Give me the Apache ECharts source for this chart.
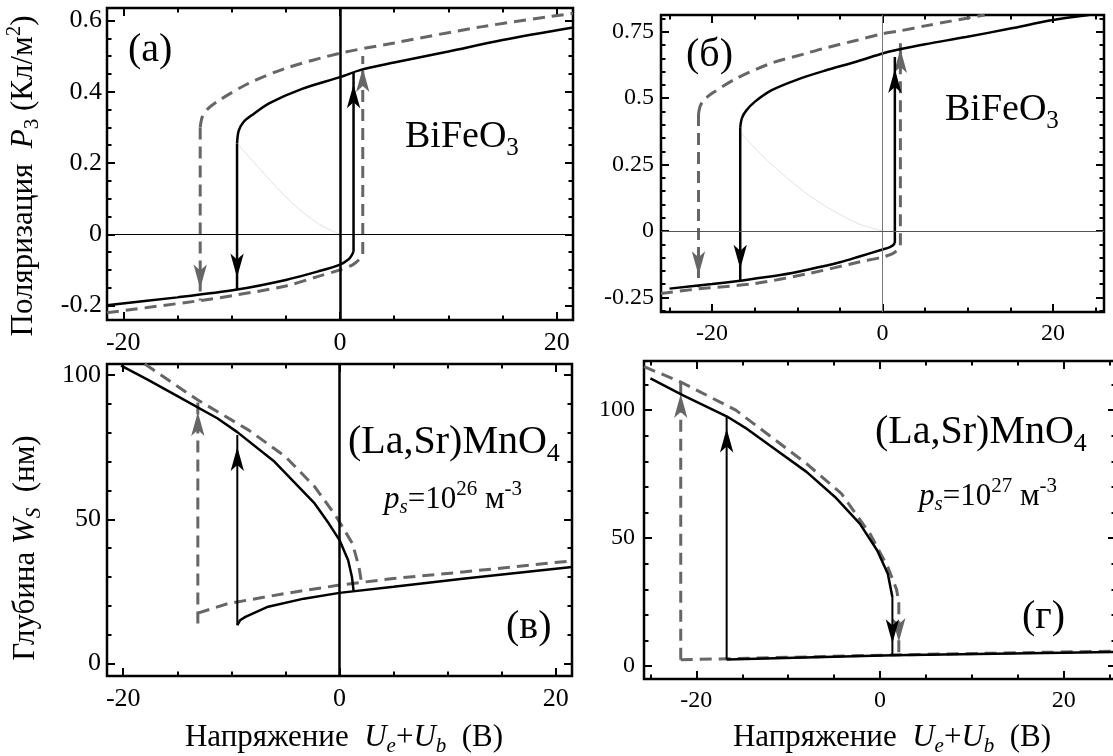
<!DOCTYPE html>
<html>
<head>
<meta charset="utf-8">
<script src="https://cdn.jsdelivr.net/npm/echarts@6/dist/echarts.min.js"></script>
<style>
  html, body { margin: 0; padding: 0; background: #fff; }
  #chart { width: 1113px; height: 756px; }
</style>
</head>
<body>
<div id="chart"></div>
<script>
// Panel (a): BiFeO3, polarization vs voltage  [U, P3]
const aSolidUpper = [[-9.5, 0.255], [-9.35, 0.29], [-8.9, 0.315], [-8.1, 0.335], [-6.5, 0.368], [-3.5, 0.408], [0, 0.441], [2, 0.462], [5, 0.482], [10, 0.513], [15, 0.545], [21.5, 0.58]];
const aSolidLower = [[-21.5, -0.199], [-15, -0.177], [-9.5, -0.155], [-5, -0.128], [-2, -0.104], [0, -0.085], [0.8, -0.07], [1.1, -0.058], [1.25, -0.048]];
const aDashUpper = [[-12.9, 0.30], [-12.7, 0.33], [-12.2, 0.352], [-11.1, 0.377], [-8.4, 0.424], [-5, 0.466], [0, 0.508], [5, 0.537], [13, 0.582], [21.5, 0.62]];
const aDashLower = [[-21.5, -0.22], [-12.9, -0.186], [-9.5, -0.17], [-5, -0.145], [-2, -0.118], [0, -0.1], [1.2, -0.085], [1.8, -0.07], [2.1, -0.055]];
const aFaint = [[-9.5, 0.255], [-7, 0.17], [-4.5, 0.09], [-2, 0.03], [0, 0]];
// arrows: [U, from, to]
const aSolidArrows = [[-9.5, 0.255, -0.155], [1.25, -0.048, 0.455]];
const aDashArrows = [[-12.9, 0.30, -0.186], [2.1, -0.055, 0.50]];

// Panel (б): BiFeO3
const bSolidUpper = [[-16.7, 0.39], [-16.5, 0.425], [-16, 0.453], [-15, 0.486], [-13, 0.53], [-10, 0.57], [-6.8, 0.603], [-3, 0.638], [0, 0.668], [1.5, 0.68], [5, 0.703], [9.8, 0.73], [15, 0.762], [20, 0.794], [24.2, 0.813]];
const bSolidLower = [[-25, -0.217], [-20, -0.2], [-16.7, -0.187], [-12, -0.166], [-8.8, -0.146], [-5, -0.118], [-2.6, -0.095], [0, -0.07], [0.8, -0.062], [1.2, -0.055], [1.45, -0.045]];
const bDashUpper = [[-21.6, 0.44], [-21.4, 0.47], [-21, 0.492], [-20, 0.518], [-17.1, 0.575], [-13, 0.632], [-9, 0.668], [-6.8, 0.688], [-3, 0.718], [0, 0.742], [2, 0.753], [5, 0.772], [8, 0.79], [12, 0.813]];
const bDashLower = [[-26, -0.235], [-21.6, -0.218], [-15, -0.198], [-8.8, -0.161], [-2.6, -0.116], [0, -0.098], [1.2, -0.085], [1.8, -0.07], [2.1, -0.054]];
const bFaint = [[-16.7, 0.37], [-13, 0.25], [-8, 0.12], [-3, 0.03], [0, 0]];
const bSolidArrows = [[-16.7, 0.39, -0.187], [1.45, -0.045, 0.655]];
const bDashArrows = [[-21.6, 0.44, -0.212], [2.1, -0.054, 0.73]];

// Panel (в): (La,Sr)MnO4, ps = 1e26, depth W_S (nm)
const cSolidUpper = [[-20.2, 103.2], [-17.7, 98.3], [-14.9, 92.5], [-11.3, 85], [-9.45, 80.2], [-6, 69.9], [-2.3, 55.5], [-1, 48.6], [0, 42.8], [0.8, 35.8], [1.15, 30], [1.3, 25.3]];
const cSolidLower = [[-9.45, 13.3], [-9.2, 15], [-8.7, 16.2], [-6.6, 19.7], [-3.3, 22.5], [0, 24.5], [5, 26.6], [11.6, 29.5], [21.5, 33.5]];
const cDashUpper = [[-18, 103.8], [-13.1, 91.3], [-8.4, 80.9], [-5, 71.7], [-2.3, 61.3], [-0.3, 50.9], [1.2, 41.6], [1.8, 33.5], [2, 28.9], [2.05, 27.8]];
const cDashLower = [[-13.1, 17.5], [-10.3, 20.8], [-5, 24.3], [0, 27.2], [5, 29.5], [11.6, 31.8], [21.5, 35.6]];
const cSolidArrows = [[-9.45, 13.3, 79.2]];
const cDashArrows = [[-13.1, 13.9, 91.3]];

// Panel (г): (La,Sr)MnO4, ps = 1e27
const dSolidUpper = [[-25, 112.4], [-21.5, 105.9], [-16.7, 97.6], [-14.7, 93.2], [-11.8, 85.7], [-8, 75.9], [-4.9, 66.1], [-2.2, 55.7], [-0.3, 45.2], [0.85, 36.1], [1.35, 27]];
const dSolidLower = [[-16.7, 2.6], [1.35, 4.3], [25.7, 5.6]];
const dDashUpper = [[-25.7, 117], [-21.7, 111], [-15.7, 100], [-8, 79.1], [-4.2, 67.4], [-1.1, 51.8], [0.85, 38.7], [1.8, 30], [2.05, 25]];
const dDashLower = [[-21.7, 2.5], [1.35, 4.4], [25.7, 5.9]];
const dSolidArrows = [[-16.7, 2.6, 97.5], [1.35, 27, 4.3]];
const dDashArrows = [[-21.7, 2.5, 111], [2.05, 25, 4.8]];

// tick labels
const xLabels = [-20, 0, 20];
const yLabelsA = [-0.2, 0, 0.2, 0.4, 0.6];
const yLabelsB = [-0.25, 0, 0.25, 0.5, 0.75];
const yLabelsW = [0, 50, 100];

const FONT = "'Liberation Serif', 'DejaVu Serif', serif";
const GRAY = '#666';

function steps(from, to, step) {
  const out = [];
  for (let v = from; v <= to + step / 1000; v += step) out.push(Math.round(v * 1000) / 1000);
  return out;
}

const panels = [
  { grid: { left: 107, top: 8, width: 466, height: 312 }, x: [-21.5, 21.5], y: [-0.2405, 0.635],
    xMajor: xLabels, xMinor: steps(-20, 20, 5), yMajor: yLabelsA, yMinor: steps(-0.2, 0.6, 0.05),
    yMargin: 5, fontSize: 26 },
  { grid: { left: 661, top: 15, width: 443, height: 297 }, x: [-26, 26], y: [-0.305, 0.813],
    xMajor: xLabels, xMinor: steps(-25, 25, 5), yMajor: yLabelsB, yMinor: steps(-0.3, 0.8, 0.05),
    yMargin: 7, fontSize: 24 },
  { grid: { left: 107, top: 364, width: 465, height: 312 }, x: [-21.5, 21.5], y: [-4.3, 103.8],
    xMajor: xLabels, xMinor: steps(-20, 20, 5), yMajor: yLabelsW, yMinor: steps(0, 100, 10),
    yMargin: 6, fontSize: 26 },
  { grid: { left: 644, top: 361, width: 472, height: 318 }, x: [-25.7, 25.7], y: [-5, 119.2],
    xMajor: xLabels, xMinor: steps(-25, 25, 5), yMajor: yLabelsW, yMinor: steps(0, 110, 10),
    yMargin: 9, fontSize: 24 }
];

const tickLine = { color: '#000', width: 2 };

function axesFor(p, gi, dim) {
  const range = dim === 'x' ? p.x : p.y;
  const major = dim === 'x' ? p.xMajor : p.yMajor;
  const minor = dim === 'x' ? p.xMinor : p.yMinor;
  const pos = dim === 'x' ? ['bottom', 'top'] : ['left', 'right'];
  const base = {
    gridIndex: gi, type: 'value', min: range[0], max: range[1],
    axisLine: { show: false, onZero: false }, splitLine: { show: false }, silent: true
  };
  const majorTick = { customValues: major, inside: true, length: 8, lineStyle: tickLine };
  const minorTick = { customValues: minor, inside: true, length: 4.5, lineStyle: tickLine };
  return [
    Object.assign({}, base, {
      position: pos[0], axisTick: majorTick,
      axisLabel: {
        customValues: major, margin: dim === 'x' ? 10 : p.yMargin,
        fontFamily: FONT, fontSize: p.fontSize, color: '#000'
      }
    }),
    Object.assign({}, base, { position: pos[0], axisTick: minorTick, axisLabel: { show: false } }),
    Object.assign({}, base, { position: pos[1], axisTick: majorTick, axisLabel: { show: false } }),
    Object.assign({}, base, { position: pos[1], axisTick: minorTick, axisLabel: { show: false } })
  ];
}

let xAxes = [], yAxes = [];
panels.forEach((p, i) => {
  xAxes = xAxes.concat(axesFor(p, i, 'x'));
  yAxes = yAxes.concat(axesFor(p, i, 'y'));
});

function curve(gi, data, dashed, smooth, extra) {
  return Object.assign({
    type: 'line', xAxisIndex: gi * 4, yAxisIndex: gi * 4, data: data,
    showSymbol: false, smooth: smooth ? 0.3 : false, silent: true, animation: false,
    lineStyle: dashed ? { color: GRAY, width: 3, type: [12, 7] } : { color: '#000', width: 2.5 },
    z: dashed ? 3 : 4
  }, extra || {});
}

function faint(gi, data) {
  return {
    type: 'line', xAxisIndex: gi * 4, yAxisIndex: gi * 4, data: data,
    showSymbol: false, smooth: 0.3, silent: true, animation: false,
    lineStyle: { color: '#e2e2e2', width: 1 }, z: 2
  };
}

function arrow(gi, a, dashed, width) {
  const up = a[2] > a[1];
  const color = dashed ? GRAY : '#000';
  return {
    type: 'line', xAxisIndex: gi * 4, yAxisIndex: gi * 4, silent: true, animation: false,
    showSymbol: true,
    data: [
      { value: [a[0], a[1]], symbol: 'none' },
      { value: [a[0], a[2]], symbol: 'arrow', symbolSize: [10, 24],
        symbolRotate: up ? 0 : 180, symbolOffset: [0, up ? '50%' : '-50%'] }
    ],
    lineStyle: dashed ? { color: color, width: 3, type: [12, 7] } : { color: color, width: width },
    itemStyle: { color: color, borderWidth: 0 },
    z: dashed ? 3 : 4
  };
}

function zeroLines(items) {
  return {
    markLine: { silent: true, symbol: 'none', label: { show: false }, animation: false, data: items }
  };
}

const series = [
  // (a)
  faint(0, aFaint),
  curve(0, aDashUpper, true, true),
  curve(0, aDashLower, true, true),
  curve(0, aSolidUpper, false, true, zeroLines([
    { xAxis: 0, lineStyle: { color: '#000', width: 2.5, type: 'solid' } },
    { yAxis: 0, lineStyle: { color: '#000', width: 1, type: 'solid' } }
  ])),
  curve(0, aSolidLower, false, true),
  // (б)
  faint(1, bFaint),
  curve(1, bDashUpper, true, true),
  curve(1, bDashLower, true, true),
  curve(1, bSolidUpper, false, true, zeroLines([
    { xAxis: 0, lineStyle: { color: '#777', width: 1, type: 'solid' } },
    { yAxis: 0, lineStyle: { color: '#555', width: 1, type: 'solid' } }
  ])),
  curve(1, bSolidLower, false, true),
  // (в)
  curve(2, cDashUpper, true, false),
  curve(2, cDashLower, true, false),
  curve(2, cSolidUpper, false, false, zeroLines([
    { xAxis: 0, lineStyle: { color: '#000', width: 2.5, type: 'solid' } }
  ])),
  curve(2, cSolidLower, false, false),
  // (г)
  curve(3, dSolidUpper, false, false),
  curve(3, dSolidLower, false, false),
  curve(3, dDashUpper, true, false),
  curve(3, dDashLower, true, false)
];

aSolidArrows.forEach(a => series.push(arrow(0, a, false, 2.5)));
aDashArrows.forEach(a => series.push(arrow(0, a, true)));
bSolidArrows.forEach(a => series.push(arrow(1, a, false, 2.5)));
bDashArrows.forEach(a => series.push(arrow(1, a, true)));
cSolidArrows.forEach(a => series.push(arrow(2, a, false, 2)));
cDashArrows.forEach(a => series.push(arrow(2, a, true)));
dSolidArrows.forEach(a => series.push(arrow(3, a, false, 2)));
dDashArrows.forEach(a => series.push(arrow(3, a, true)));

// text styles for annotations and titles
const rich = {
  n: { fontFamily: FONT, fontSize: 38 },
  sub: { fontFamily: FONT, fontSize: 25, padding: [22, 0, 0, 0] },
  m: { fontFamily: FONT, fontSize: 40 },
  msub: { fontFamily: FONT, fontSize: 26, padding: [24, 0, 0, 0] },
  t: { fontFamily: FONT, fontSize: 31 },
  ti: { fontFamily: FONT, fontSize: 31, fontStyle: 'italic' },
  ts: { fontFamily: FONT, fontSize: 21, padding: [17, 0, 0, 0] },
  tsi: { fontFamily: FONT, fontSize: 21, fontStyle: 'italic', padding: [17, 0, 0, 0] },
  tsup: { fontFamily: FONT, fontSize: 21, padding: [0, 0, 20, 0] },
  p: { fontFamily: FONT, fontSize: 31 },
  pi: { fontFamily: FONT, fontSize: 31, fontStyle: 'italic' },
  psi: { fontFamily: FONT, fontSize: 21, fontStyle: 'italic', padding: [15, 0, 0, 0] },
  psup: { fontFamily: FONT, fontSize: 21, padding: [0, 0, 22, 0] }
};

function label(x, y, text, opts) {
  return Object.assign({
    type: 'text', x: x, y: y, silent: true, z: 10,
    style: Object.assign({ text: text, rich: rich, fill: '#000', fontFamily: FONT, fontSize: 38,
      align: 'left', verticalAlign: 'middle' }, (opts && opts.style) || {})
  }, (opts && opts.el) || {});
}

const bifeo = '{n|BiFeO}{sub|3}';
const lasr = '{m|(La,Sr)MnO}{msub|4}';
const xTitle = '{t|Напряжение  }{ti|U}{tsi|e}{t|+}{ti|U}{tsi|b}{t|  (В)}';

const graphic = [
  label(128, 50, '{m|(a)}'),
  label(405, 137, bifeo),
  label(686, 55, '{m|(б)}'),
  label(945, 110, bifeo),
  label(348, 442, lasr),
  label(384, 500, '{pi|p}{psi|s}{p|=10}{psup|26}{p| м}{psup|-3}'),
  label(506, 627, '{m|(в)}'),
  label(875, 432, lasr),
  label(919, 497, '{pi|p}{psi|s}{p|=10}{psup|27}{p| м}{psup|-3}'),
  label(1022, 617, '{m|(г)}'),
  label(24, 176, '{t|Поляризация  }{ti|P}{ts|3}{t| (Кл/м}{tsup|2}{t|)}',
    { style: { align: 'center' }, el: { rotation: Math.PI / 2 } }),
  label(26, 548, '{t|Глубина }{ti|W}{tsi|S}{t|  (нм)}',
    { style: { align: 'center' }, el: { rotation: Math.PI / 2 } }),
  label(344, 738, xTitle, { style: { align: 'center' } }),
  label(892, 738, xTitle, { style: { align: 'center' } })
];

const chart = echarts.init(document.getElementById('chart'), null, { renderer: 'canvas' });
chart.setOption({
  backgroundColor: '#fff',
  animation: false,
  grid: panels.map(p => Object.assign({
    show: true, borderColor: '#000', borderWidth: 2.5, backgroundColor: 'transparent',
    containLabel: false, outerBoundsMode: 'none'
  }, p.grid)),
  xAxis: xAxes,
  yAxis: yAxes,
  series: series,
  graphic: graphic
});
</script>
</body>
</html>
